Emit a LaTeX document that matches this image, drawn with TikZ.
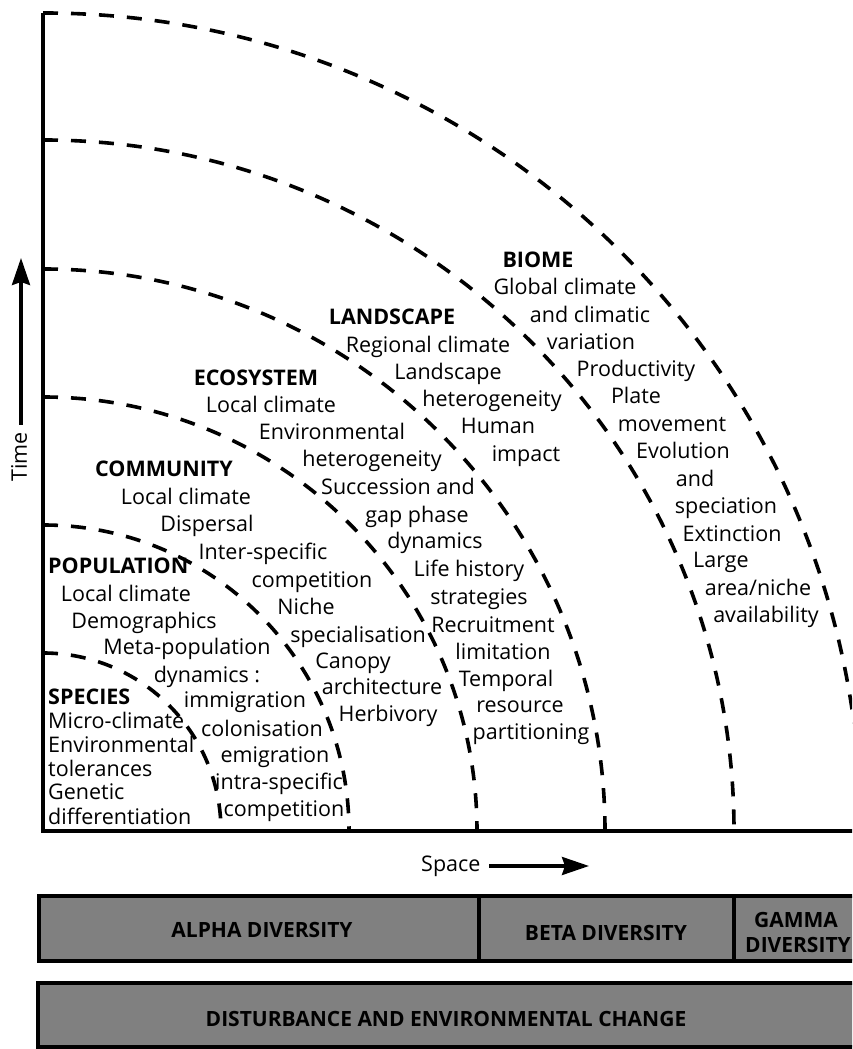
\documentclass[tikz,border=0pt]{standalone}
\usepackage{fontspec}
\setmainfont{Open Sans}
\usetikzlibrary{arrows.meta}
\newcommand\ftxt{\fontsize{21.5}{26}\selectfont}
\newcommand\fhead{\fontsize{21.5}{26}\selectfont\bfseries}
\newcommand\fbar{\fontsize{21}{24}\selectfont\bfseries}
\tikzset{
  txt/.style={font=\ftxt, inner sep=0pt, anchor=base},
  hd/.style={font=\fhead, inner sep=0pt, anchor=base},
  arcln/.style={line width=3.6pt, dash pattern=on 15pt off 13pt},
  axisln/.style={line width=3.5pt},
  arrowln/.style={line width=3.3pt, -{Stealth[length=27pt,width=18pt,inset=3pt]}},
  barbox/.style={draw=black, line width=4pt, fill=black!50},
  bartxt/.style={font=\fbar, inner sep=0pt, anchor=base, text=black},
}
\begin{document}
\begin{tikzpicture}[x=1pt,y=1pt]
\useasboundingbox (0,0) rectangle (852,1049);
\clip (0,0) rectangle (852,1049);
\coordinate (O) at (43,218);
% arcs
\foreach \r in {178,306,434,562,691,818}{
  \draw[arcln] (O) ++(90:\r) arc[start angle=90, end angle=0, radius=\r];
}
% axes
\coordinate (ytop) at (43,1036);
\coordinate (xend) at (860,218);
\draw[axisln] (ytop) -- (O) -- (xend);
% Time arrow
\coordinate (tb) at (21,624);
\coordinate (tt) at (21,791);
\draw[arrowln] (tb) -- (tt);
\node[font=\ftxt, inner sep=0pt, rotate=90] (time) at (19,592) {Time};
% Space arrow
\coordinate (sb) at (489,183);
\coordinate (st) at (589,183);
\draw[arrowln] (sb) -- (st);
\node[txt, anchor=base west] (space) at (421,177) {Space};

% SPECIES
\node[hd, anchor=base west] (s0) at (48,344) {SPECIES};
\node[txt, anchor=base west] (s1) at (48,320) {Micro-climate};
\node[txt, anchor=base west] (s2) at (48,296) {Environmental};
\node[txt, anchor=base west] (s3) at (48,272) {tolerances};
\node[txt, anchor=base west] (s4) at (48,249) {Genetic};
\node[txt, anchor=base west] (s5) at (48,224) {differentiation};

% POPULATION
\node[hd, anchor=base west] (p0) at (48,475) {POPULATION};
\node[txt] (p1) at (126,447) {Local climate};
\node[txt] (p2) at (144,420) {Demographics};
\node[txt] (p3) at (187,394) {Meta-population};
\node[txt] (p4) at (207,366) {dynamics :};
\node[txt] (p5) at (245,341) {immigration};
\node[txt] (p6) at (262,312) {colonisation};
\node[txt] (p7) at (275,286) {emigration};
\node[txt] (p8) at (279,259) {intra-specific};
\node[txt] (p9) at (284,232) {competition};

% COMMUNITY
\node[hd] (c0) at (164,572) {COMMUNITY};
\node[txt] (c1) at (186,544) {Local climate};
\node[txt] (c2) at (207,517) {Dispersal};
\node[txt] (c3) at (263,489) {Inter-specific};
\node[txt] (c4) at (312,461) {competition};
\node[txt] (c5) at (306,434) {Niche};
\node[txt] (c6) at (358,406) {specialisation};
\node[txt] (c7) at (353,380) {Canopy};
\node[txt] (c8) at (382,354) {architecture};
\node[txt] (c9) at (388,327) {Herbivory};

% ECOSYSTEM
\node[hd] (e0) at (256,663) {ECOSYSTEM};
\node[txt] (e1) at (271,636) {Local climate};
\node[txt] (e2) at (332,609) {Environmental};
\node[txt] (e3) at (372,582) {heterogeneity};
\node[txt] (e4) at (398,554) {Succession and};
\node[txt] (e5) at (417,526) {gap phase};
\node[txt] (e6) at (435,500) {dynamics};
\node[txt] (e7) at (469,472) {Life history};
\node[txt] (e8) at (479,444) {strategies};
\node[txt] (e9) at (493,416) {Recruitment};
\node[txt] (e10) at (503,389) {limitation};
\node[txt] (e11) at (506,362) {Temporal};
\node[txt] (e12) at (520,336) {resource};
\node[txt] (e13) at (531,309) {partitioning};

% LANDSCAPE
\node[hd] (l0) at (392,724) {LANDSCAPE};
\node[txt] (l1) at (428,696) {Regional climate};
\node[txt] (l2) at (448,669) {Landscape};
\node[txt] (l3) at (492,642) {heterogeneity};
\node[txt] (l4) at (498,615) {Human};
\node[txt] (l5) at (526,587) {impact};

% BIOME
\node[hd] (b0) at (538,781) {BIOME};
\node[txt] (b1) at (565,754) {Global climate};
\node[txt] (b2) at (590,726) {and climatic};
\node[txt] (b3) at (591,699) {variation};
\node[txt] (b4) at (636,672) {Productivity};
\node[txt] (b5) at (636,645) {Plate};
\node[txt] (b6) at (672,617) {movement};
\node[txt] (b7) at (683,590) {Evolution};
\node[txt] (b8) at (695,562) {and};
\node[txt] (b9) at (726,535) {speciation};
\node[txt] (b10) at (732,507) {Extinction};
\node[txt] (b11) at (721,481) {Large};
\node[txt] (b12) at (758,453) {area/niche};
\node[txt] (b13) at (766,426) {availability};

% bars
\draw[barbox] (39,88) rectangle (880,153);
\coordinate (d1t) at (479,153);
\coordinate (d1b) at (479,88);
\coordinate (d2t) at (734,153);
\coordinate (d2b) at (734,88);
\draw[line width=4pt] (d1t) -- (d1b);
\draw[line width=4pt] (d2t) -- (d2b);
\node[bartxt] (alpha) at (262,111) {ALPHA DIVERSITY};
\node[bartxt] (beta) at (606,108) {BETA DIVERSITY};
\node[bartxt] (gamma1) at (796,121) {GAMMA};
\node[bartxt] (gamma2) at (798,96) {DIVERSITY};
\draw[barbox] (38,2) rectangle (880,66);
\node[bartxt] (dist) at (446,22) {DISTURBANCE AND ENVIRONMENTAL CHANGE};
\end{tikzpicture}
\end{document}
